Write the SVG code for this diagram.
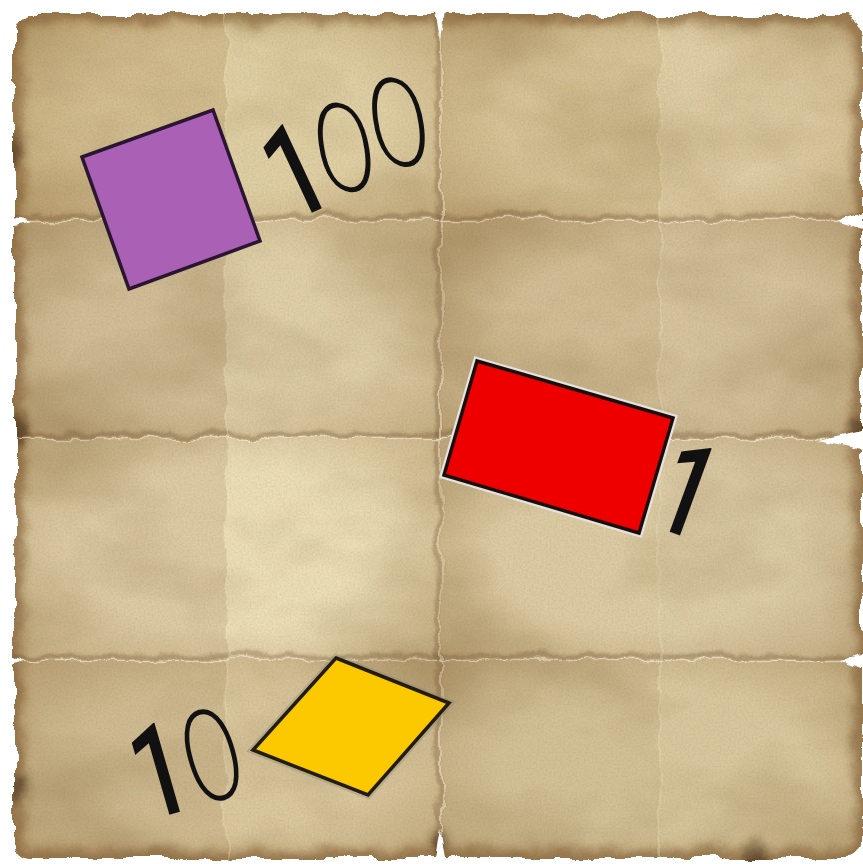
<svg xmlns="http://www.w3.org/2000/svg" width="863" height="864" viewBox="0 0 863 864">
<style>
.tile{stroke:none}
.vig{fill:url(#vig)}
.seam-shadow{stroke:#5a3c16;stroke-opacity:0.3;stroke-width:5;fill:none}
.seam-light{stroke:#f4ead0;stroke-opacity:0.75;stroke-width:1.4;fill:none}
.notch{fill:#ffffff}
.num{font-size:130px;fill:#111111}
.one{font-family:Roboto,"Open Sans",Inter,sans-serif;font-weight:500}
.zero{font-family:Lato,Roboto,Inter,"DejaVu Sans",sans-serif;font-weight:300}
</style>
<defs>
<clipPath id="paperClip"><rect x="15" y="15" width="847" height="843" rx="16"/></clipPath>
<radialGradient id="vig" cx="0.5" cy="0.5" r="0.72">
<stop offset="0.5" stop-color="#7a5220" stop-opacity="0"/>
<stop offset="1" stop-color="#7a5220" stop-opacity="0.3"/>
</radialGradient>
<filter id="tear" x="-3%" y="-3%" width="106%" height="106%" color-interpolation-filters="sRGB">
<feTurbulence type="fractalNoise" baseFrequency="0.03" numOctaves="5" seed="7" result="t"/>
<feDisplacementMap in="SourceGraphic" in2="t" scale="14" xChannelSelector="R" yChannelSelector="G" result="d"/>
<feTurbulence type="fractalNoise" baseFrequency="0.006 0.01" numOctaves="4" seed="21" result="n"/>
<feColorMatrix in="n" type="matrix" values="0 0 0 0 0.45  0 0 0 0 0.33  0 0 0 0 0.15  0.55 0 0 0 -0.24" result="nc"/>
<feComposite in="nc" in2="d" operator="in" result="nm"/>
<feTurbulence type="fractalNoise" baseFrequency="0.5" numOctaves="2" seed="4" result="g"/>
<feColorMatrix in="g" type="matrix" values="0 0 0 0 0.4  0 0 0 0 0.3  0 0 0 0 0.12  0.2 0 0 0 -0.07" result="gc"/>
<feComposite in="gc" in2="d" operator="in" result="gm"/>
<feMerge><feMergeNode in="d"/><feMergeNode in="nm"/><feMergeNode in="gm"/></feMerge>
</filter>
<filter id="soft" x="-10%" y="-10%" width="120%" height="120%"><feGaussianBlur stdDeviation="5"/></filter>
<filter id="soft2" x="-10%" y="-50%" width="120%" height="200%"><feGaussianBlur stdDeviation="1.5"/></filter>
<filter id="rough" x="-20%" y="-20%" width="140%" height="140%">
<feTurbulence type="fractalNoise" baseFrequency="0.08" numOctaves="3" seed="2" result="t"/>
<feDisplacementMap in="SourceGraphic" in2="t" scale="6" xChannelSelector="R" yChannelSelector="G"/>
</filter>
<filter id="blur1" x="-10%" y="-10%" width="120%" height="120%"><feGaussianBlur stdDeviation="0.6"/></filter>
</defs>

<rect x="0" y="0" width="863" height="864" fill="#ffffff"/>

<g id="paper" filter="url(#tear)">
<rect x="15" y="15" width="847" height="843" rx="16" fill="#d6c49a"/>
<g clip-path="url(#paperClip)">
<rect class="tile" x="10" y="10" width="216" height="210" fill="#d2bd90"/>
<rect class="tile" x="226" y="10" width="214" height="210" fill="#dfcfa4"/>
<rect class="tile" x="440" y="10" width="220" height="210" fill="#d6c397"/>
<rect class="tile" x="660" y="10" width="205" height="210" fill="#dfcea6"/>
<rect class="tile" x="10" y="220" width="216" height="218" fill="#d0bd96"/>
<rect class="tile" x="226" y="220" width="214" height="218" fill="#dfcfa8"/>
<rect class="tile" x="440" y="220" width="220" height="218" fill="#d1bd95"/>
<rect class="tile" x="660" y="220" width="205" height="218" fill="#d6c49e"/>
<rect class="tile" x="10" y="438" width="216" height="222" fill="#dccba4"/>
<rect class="tile" x="226" y="438" width="214" height="222" fill="#ecdeb7"/>
<rect class="tile" x="440" y="438" width="220" height="222" fill="#dccba3"/>
<rect class="tile" x="660" y="438" width="205" height="222" fill="#dccca6"/>
<rect class="tile" x="10" y="660" width="216" height="205" fill="#cfbb92"/>
<rect class="tile" x="226" y="660" width="214" height="205" fill="#dac89f"/>
<rect class="tile" x="440" y="660" width="220" height="205" fill="#d2c097"/>
<rect class="tile" x="660" y="660" width="205" height="205" fill="#d8c79e"/>
<rect class="vig" x="15" y="15" width="425" height="205"/>
<rect class="vig" x="440" y="15" width="422" height="205"/>
<rect class="vig" x="15" y="220" width="425" height="218"/>
<rect class="vig" x="440" y="220" width="422" height="218"/>
<rect class="vig" x="15" y="438" width="425" height="222"/>
<rect class="vig" x="440" y="438" width="422" height="222"/>
<rect class="vig" x="15" y="660" width="425" height="198"/>
<rect class="vig" x="440" y="660" width="422" height="198"/>
<rect x="15" y="15" width="847" height="843" rx="16" fill="none" stroke="#7a5424" stroke-width="16" stroke-opacity="0.6" filter="url(#soft)"/>
<g filter="url(#soft)" fill="#3e2610" fill-opacity="0.6">
<ellipse cx="757" cy="858" rx="10" ry="18"/>
<ellipse cx="440" cy="842" rx="8" ry="14"/>
<ellipse cx="16" cy="430" rx="10" ry="18"/>
<ellipse cx="16" cy="150" rx="8" ry="16"/>
<ellipse cx="860" cy="430" rx="8" ry="14"/>
<ellipse cx="20" cy="790" rx="8" ry="14"/>
</g>
<g filter="url(#soft2)">
<path class="seam-shadow" d="M15 217 L862 217"/>
<path class="seam-shadow" d="M15 435 L862 435"/>
<path class="seam-shadow" d="M15 657 L862 657"/>
<path class="seam-shadow" d="M438 15 L438 858" stroke-width="3" stroke-opacity="0.2"/>
</g>
<path class="seam-light" d="M15 220.5 L862 220.5"/>
<path class="seam-light" d="M15 438.5 L862 438.5"/>
<path class="seam-light" d="M15 660.5 L862 660.5"/>
<path class="seam-light" d="M441 15 L441 858" stroke-opacity="0.4"/>
<path d="M226 15 L226 858 M660 15 L660 858" stroke="#f0e4c4" stroke-opacity="0.3" stroke-width="2" fill="none"/>
</g>
</g>

<g id="notches" filter="url(#rough)">
<polygon class="notch" points="0,214 32,221 0,228"/>
<polygon class="notch" points="863,213 836,221 863,229"/>
<polygon class="notch" points="863,430 818,440 863,450"/>
<polygon class="notch" points="0,432 18,438 0,444"/>
<polygon class="notch" points="0,654 24,661 0,668"/>
<polygon class="notch" points="863,653 840,661 863,669"/>
<polygon class="notch" points="433,0 440,38 447,0"/>
<polygon class="notch" points="434,864 440,828 446,864"/>
</g>

<g id="connectors"></g>

<g id="node-purple">
<polygon points="82,157 213,110 260,241 129,289" fill="#aa60b4" stroke="#2a1630" stroke-width="3.5" filter="url(#blur1)"/>
<text class="num" transform="translate(318,210) rotate(-25) scale(0.72,1)"><tspan class="one" x="-43" y="0">1</tspan><tspan class="zero" x="17" y="-18" rotate="23">0</tspan><tspan class="zero" x="100" y="-18" rotate="23">0</tspan></text>
</g>

<g id="node-red">
<polygon points="477,361 673,418 639,533 444,475" fill="none" stroke="#e6e2de" stroke-width="8"/>
<polygon points="477,361 673,418 639,533 444,475" fill="#ee0000" stroke="#1e1010" stroke-width="3.5" filter="url(#blur1)"/>
<text class="num" transform="translate(676,534) rotate(20) scale(0.72,1)"><tspan class="one" x="-43" y="0">1</tspan></text>
</g>

<g id="node-yellow">
<polygon points="336,658 449,703 368,795 253,750" fill="none" stroke="#8a8478" stroke-opacity="0.35" stroke-width="8"/>
<polygon points="336,658 449,703 368,795 253,750" fill="#fcc800" stroke="#231c0c" stroke-width="3.5" filter="url(#blur1)"/>
<text class="num" transform="translate(176,813) rotate(-16) scale(0.72,1)"><tspan class="one" x="-43" y="0">1</tspan><tspan class="zero" x="32" y="0">0</tspan></text>
</g>
</svg>
